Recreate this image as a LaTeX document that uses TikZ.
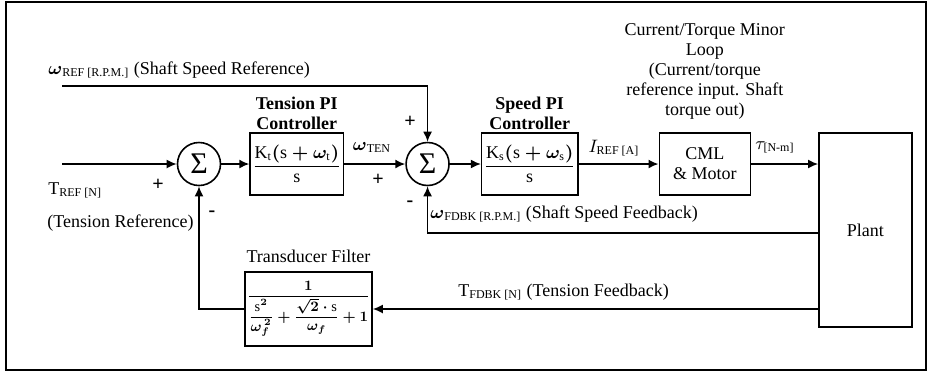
\documentclass[tikz,border=0pt]{standalone}
\usepackage{amsmath,amssymb}
\usepackage{fontspec}
\setmainfont{Liberation Serif}
\usepackage{tikz}
\usetikzlibrary{arrows.meta,positioning}

\begin{document}
\begin{tikzpicture}[
  x=0.5pt, y=-0.5pt,
  font=\fontsize{9}{10}\selectfont,
  blk/.style={rectangle, draw, line width=0.8pt, inner sep=1pt, align=center},
  sumnode/.style={circle, draw, line width=0.8pt, minimum size=21.5pt,
    inner sep=0pt, font=\fontsize{15}{15}\selectfont},
  sig/.style={-{Latex[length=5pt,width=4.5pt]}, line width=0.8pt},
  ttl/.style={align=center, inner sep=1pt},
  ttlb/.style={ttl, font=\fontsize{9}{10}\selectfont\bfseries},
  lbl/.style={inner sep=0pt, anchor=west},
  sgn/.style={inner sep=0pt, font=\fontsize{10}{10}\selectfont\bfseries}
]
  \useasboundingbox (0,0) rectangle (932,372);
  \draw[line width=1.2pt] (6,2) rectangle (926,370);

  % forward path
  \node[sumnode] (sumT) at (199,164) {Σ};
  \node[blk, minimum width=46.5pt, minimum height=31pt, right=14pt of sumT] (tpi)
    {$\boldsymbol{\dfrac{\text{K}_{\text{t}}(\text{s}+\omega_{\text{t}})}{\text{s}}}$};
  \node[sumnode, right=30.5pt of tpi] (sumS) {Σ};
  \node[blk, minimum width=45pt, minimum height=31pt, right=15.5pt of sumS] (spi)
    {$\boldsymbol{\dfrac{\text{K}_{\text{s}}(\text{s}+\omega_{\text{s}})}{\text{s}}}$};
  \node[blk, minimum width=45.5pt, minimum height=31pt, right=40pt of spi] (cml)
    {CML\\\& Motor};
  \node[blk, minimum width=46.5pt, minimum height=97pt,
    right=33.5pt of cml.north east, anchor=north west] (plant) {Plant};
  \node[blk, minimum width=63.5pt, minimum height=37pt, inner sep=0.5pt] (filt) at (308.5,309)
    {\scalebox{0.8}{$\boldsymbol{\dfrac{1}{\dfrac{\text{s}^2}{\omega_f^{\,2}}
      +\dfrac{\sqrt{2}\cdot\text{s}}{\omega_f}+1}}$}};

  % titles
  \node[ttlb, above=0pt of tpi] (tpit) {Tension PI\\Controller};
  \node[ttlb, above=0pt of spi] (spit) {Speed PI\\Controller};
  \node[ttl, above=5pt of cml] (cmlt)
    {Current/Torque Minor\\Loop\\(Current/torque\\reference input. Shaft\\torque out)};
  \node[ttl, above=3pt of filt] (filtt) {Transducer Filter};

  \coordinate (tin) at (62,164);
  \coordinate (wref) at (62,86);
  \coordinate (wfb) at ([yshift=-1.5pt]plant.west);

  \draw[sig] (tin) -- (sumT);
  \draw[sig] (sumT) -- (tpi);
  \draw[sig] (tpi) -- (sumS);
  \draw[sig] (wref) -| (sumS);
  \draw[sig] (sumS) -- (spi);
  \draw[sig] (spi) -- (cml);
  \draw[sig] (cml) -- (cml -| plant.west);
  \draw[sig] (wfb) -| (sumS);
  \draw[sig] (filt -| plant.west) -- (filt);
  \draw[sig] (filt) -| (sumT);

  % signal labels
  \node[lbl] (wreft) at (48,70)
    {$\boldsymbol{\omega}_{\text{REF [R.P.M.]}}$ (Shaft Speed Reference)};
  \node[lbl] (treft) at (48,190) {T$_{\text{REF [N]}}$};
  \node[lbl] (trefd) at (47,223) {(Tension Reference)};
  \node (wtent) at (372,147) {$\boldsymbol{\omega}_{\text{TEN}}$};
  \node (ireft) at (614,148) {$I_{\text{REF [A]}}$};
  \node (taut) at (775,147) {$\tau_{\text{[N-m]}}$};
  \node[lbl] (wfbt) at (430,214)
    {$\boldsymbol{\omega}_{\text{FDBK [R.P.M.]}}$ (Shaft Speed Feedback)};
  \node[lbl] (tfbt) at (458,292) {T$_{\text{FDBK [N]}}$ (Tension Feedback)};

  % signs
  \node[sgn] (s1) at (158,185) {+};
  \node[sgn] (s2) at (212,214) {-};
  \node[sgn] (s3) at (410,122) {+};
  \node[sgn] (s4) at (378,180) {+};
  \node[sgn] (s5) at (410,204) {-};
\end{tikzpicture}
\end{document}
